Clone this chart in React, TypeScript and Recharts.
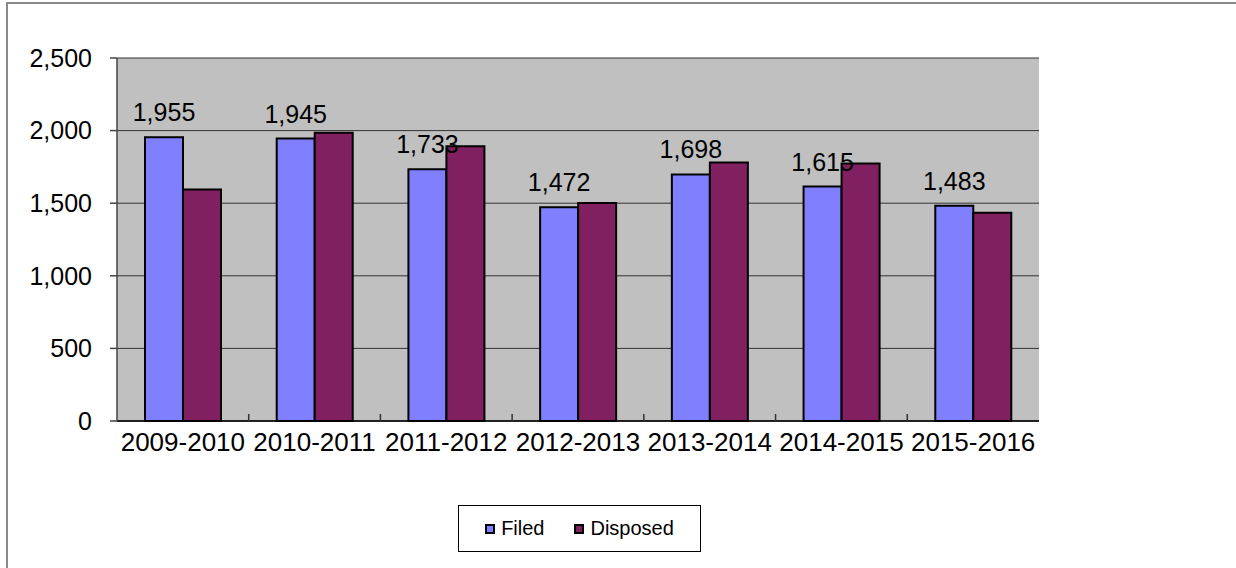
import { BarChart, Bar, XAxis, YAxis, CartesianGrid, Legend, LabelList } from 'recharts'

const categories = ['2009-2010', '2010-2011', '2011-2012', '2012-2013', '2013-2014', '2014-2015', '2015-2016']
const filed = [1955, 1945, 1733, 1472, 1698, 1615, 1483]
const disposed = [1594, 1985, 1892, 1502, 1781, 1774, 1434]
const yTicks = [0, 500, 1000, 1500, 2000, 2500]

const FONT = '"Liberation Sans", Arial, sans-serif'
const FILED_COLOR = '#8080FF'
const DISPOSED_COLOR = '#802060'
const X_TICK_MARGIN = 12

const data = categories.map((period, i) => ({ period, filed: filed[i], disposed: disposed[i] }))

const fmt = (v: number) => v.toLocaleString('en-US')

// category label plus the small inward tick between categories
function CategoryTick(props: any) {
  const { x, y, payload, index } = props
  const axisY = y - X_TICK_MARGIN
  const edge = x + (payload?.offset ?? 0)
  return (
    <g>
      {index < categories.length - 1 && (
        <line x1={edge} x2={edge} y1={axisY} y2={axisY - 7} stroke="#333" strokeWidth={1.5} />
      )}
      <text x={x} y={y} dy="0.71em" textAnchor="middle" fill="#000" fontSize={26} fontFamily={FONT}>
        {payload.value}
      </text>
    </g>
  )
}

function LegendBox() {
  const items = [
    { name: 'Filed', color: FILED_COLOR },
    { name: 'Disposed', color: DISPOSED_COLOR },
  ]
  return (
    <div
      style={{
        boxSizing: 'border-box',
        width: 243,
        height: 47,
        border: '1px solid #000',
        background: '#fff',
        display: 'flex',
        alignItems: 'center',
        justifyContent: 'center',
        gap: 30,
        fontFamily: FONT,
        fontSize: 20,
        color: '#000',
      }}
    >
      {items.map((it) => (
        <div key={it.name} style={{ display: 'flex', alignItems: 'center' }}>
          <span
            style={{
              boxSizing: 'border-box',
              width: 10,
              height: 10,
              background: it.color,
              border: '2px solid #000',
              marginRight: 6,
            }}
          />
          <span>{it.name}</span>
        </div>
      ))}
    </div>
  )
}

export default function App() {
  return (
    <div
      style={{
        position: 'fixed',
        left: 0,
        top: 0,
        width: 1236,
        height: 568,
        overflow: 'hidden',
        background: '#fff',
      }}
    >
      <div
        style={{
          position: 'absolute',
          left: 6,
          top: 2,
          width: 2000,
          height: 2000,
          border: '2px solid #8a8a8a',
        }}
      />
      <div style={{ position: 'absolute', left: 0, top: 0 }}>
        <BarChart
          width={1236}
          height={568}
          data={data}
          margin={{ top: 58, right: 197, bottom: 107, left: 0 }}
          barGap={0}
        >
          <CartesianGrid vertical={false} fill="#C0C0C0" stroke="#333" strokeWidth={1} />
          <XAxis
            dataKey="period"
            height={40}
            tickLine={false}
            tickSize={0}
            tickMargin={X_TICK_MARGIN}
            axisLine={{ stroke: '#000', strokeWidth: 1.5 }}
            tick={<CategoryTick />}
            interval={0}
          />
          <YAxis
            width={117}
            domain={[0, 2500]}
            ticks={yTicks}
            tickFormatter={fmt}
            tickSize={7}
            tickMargin={18}
            axisLine={{ stroke: '#444', strokeWidth: 1.5 }}
            tickLine={{ stroke: '#444', strokeWidth: 1.5 }}
            tick={{ fill: '#000', fontSize: 25, fontFamily: FONT }}
          />
          <YAxis
            yAxisId="r"
            orientation="right"
            width={0}
            domain={[0, 2500]}
            tick={false}
            tickLine={false}
            axisLine={{ stroke: '#8a8a8a', strokeWidth: 2 }}
          />
          <Legend
            layout="horizontal"
            verticalAlign="middle"
            align="center"
            content={() => <LegendBox />}
            wrapperStyle={{ left: 458, top: 505, width: 243, height: 47 }}
          />
          <Bar dataKey="filed" name="Filed" fill={FILED_COLOR} stroke="#000" strokeWidth={2} barSize={38} isAnimationActive={false}>
            <LabelList
              dataKey="filed"
              position="top"
              offset={16}
              formatter={(v: any) => fmt(Number(v))}
              style={{ fill: '#000', fontSize: 25, fontFamily: FONT }}
            />
          </Bar>
          <Bar dataKey="disposed" name="Disposed" fill={DISPOSED_COLOR} stroke="#000" strokeWidth={2} barSize={38} isAnimationActive={false} />
        </BarChart>
      </div>
    </div>
  )
}
